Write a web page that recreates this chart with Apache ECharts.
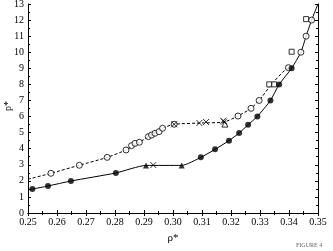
<!DOCTYPE html>
<html><head><meta charset="utf-8">
<script src="https://cdn.jsdelivr.net/npm/echarts@6/dist/echarts.min.js"></script>
<style>html,body{margin:0;padding:0;background:#fff}#c{width:333px;height:251px}</style>
</head><body><div id="c"></div>
<script>
// Data arrays
const solidCurve = [[0.25,1.45],[0.2515,1.49],[0.2569,1.68],[0.2648,1.99],[0.2803,2.49],[0.2907,2.96],[0.303,2.96],[0.3096,3.46],[0.3145,3.96],[0.3193,4.5],[0.3228,4.97],[0.3259,5.49],[0.3291,6.01],[0.3336,7.0],[0.3366,8.0],[0.3409,9.0],[0.3441,10.0],[0.3459,11.0],[0.3478,12.0],[0.35,13.0]];
const dashedCurve = [[0.25,2.1],[0.2579,2.47],[0.2677,2.97],[0.2773,3.46],[0.2838,3.92],[0.2884,4.4],[0.2964,5.27],[0.3004,5.52],[0.31,5.6],[0.3176,5.66],[0.3224,6.03],[0.3269,6.51],[0.3297,7.0],[0.334,8.0],[0.3398,9.0],[0.3409,9.0]];
const filledCircles = [[0.2515,1.49],[0.2569,1.68],[0.2648,1.99],[0.2803,2.49],[0.3096,3.46],[0.3145,3.96],[0.3193,4.5],[0.3228,4.97],[0.3259,5.49],[0.3291,6.01],[0.3336,7.0],[0.3366,8.0],[0.3409,9.0]];
const filledTriangles = [[0.2907,2.96],[0.303,2.96]];
const crosses = [[0.2932,2.98],[0.3004,5.52],[0.3091,5.6],[0.3114,5.66],[0.3173,5.74],[0.3176,5.68]];
const openCircles = [[0.2579,2.47],[0.2677,2.97],[0.2773,3.46],[0.2838,3.92],[0.2857,4.19],[0.2869,4.33],[0.2884,4.4],[0.2915,4.75],[0.2926,4.85],[0.2938,4.96],[0.2952,5.06],[0.2964,5.27],[0.3004,5.52],[0.3224,6.03],[0.3269,6.51],[0.3297,7.0],[0.3398,9.04],[0.3441,10.0],[0.3459,11.0],[0.3478,12.0]];
const openSquares = [[0.3332,8.0],[0.3349,8.0],[0.3409,10.03],[0.3459,12.06]];
const openTriangles = [[0.3179,5.53]];
const xTicks = {min:0.25,max:0.35,interval:0.01};
const yTicks = {min:0,max:13,interval:1};
const yName = 'p*';

const font = 'Liberation Serif, DejaVu Serif, serif';
const X_PATH = 'path://M0,0L10,10M10,0L0,10';
const axisCommon = {
  axisLine:{show:true,lineStyle:{color:'#000',width:1}},
  axisTick:{show:true,inside:true,length:3,lineStyle:{color:'#000'}},
  minorTick:{show:true,splitNumber:2,length:2,lineStyle:{color:'#000'}},
  splitLine:{show:false}
};
const chart = echarts.init(document.getElementById('c'),null,{renderer:'canvas'});
chart.setOption({
  animation:false,
  backgroundColor:'#fff',
  grid:{left:28,right:15,top:4,bottom:38,containLabel:false,outerBoundsMode:'none'},
  graphic:[
    {type:'text',left:296,top:242,style:{text:'FIGURE 4',font:'6px '+font,fill:'#666'}},
    {type:'text',x:8,y:106,rotation:Math.PI/2,style:{text:yName,font:'10px '+font,fill:'#000',align:'center',verticalAlign:'middle'}}
  ],
  xAxis:[
    Object.assign({type:'value',min:xTicks.min,max:xTicks.max,interval:xTicks.interval,position:'bottom',
      name:'ρ*',nameLocation:'middle',nameGap:20,nameTextStyle:{fontFamily:font,fontSize:11,color:'#000'},
      axisLabel:{fontFamily:font,fontSize:10,color:'#000',margin:4,formatter:v=>v.toFixed(2)}},axisCommon),
    Object.assign({type:'value',min:xTicks.min,max:xTicks.max,interval:xTicks.interval,position:'top',axisLabel:{show:false}},axisCommon)
  ],
  yAxis:[
    Object.assign({type:'value',min:yTicks.min,max:yTicks.max,interval:yTicks.interval,position:'left',
      axisLabel:{fontFamily:font,fontSize:10,color:'#000',margin:4}},axisCommon),
    Object.assign({type:'value',min:yTicks.min,max:yTicks.max,interval:yTicks.interval,position:'right',axisLabel:{show:false}},axisCommon)
  ],
  series:[
    {type:'line',data:solidCurve,smooth:0.2,symbol:'none',lineStyle:{color:'#000',width:1},z:1},
    {type:'line',data:dashedCurve,smooth:0.2,symbol:'none',lineStyle:{color:'#000',width:1,type:[3,2]},z:1},
    {type:'scatter',data:openCircles,symbol:'circle',symbolSize:6,itemStyle:{color:'#fff',borderColor:'#000',borderWidth:1},z:3},
    {type:'scatter',data:filledCircles,symbol:'circle',symbolSize:6,itemStyle:{color:'#000'},z:4},
    {type:'scatter',data:filledTriangles,symbol:'triangle',symbolSize:6,itemStyle:{color:'#000'},z:4},
    {type:'scatter',data:openSquares,symbol:'rect',symbolSize:5,itemStyle:{color:'#fff',borderColor:'#000',borderWidth:1},z:3},
    {type:'scatter',data:openTriangles,symbol:'triangle',symbolSize:6,itemStyle:{color:'#fff',borderColor:'#000',borderWidth:1},z:3},
    {type:'scatter',data:crosses,symbol:X_PATH,symbolSize:6,itemStyle:{color:'none',borderColor:'#000',borderWidth:1},z:5}
  ]
});
</script></body></html>
